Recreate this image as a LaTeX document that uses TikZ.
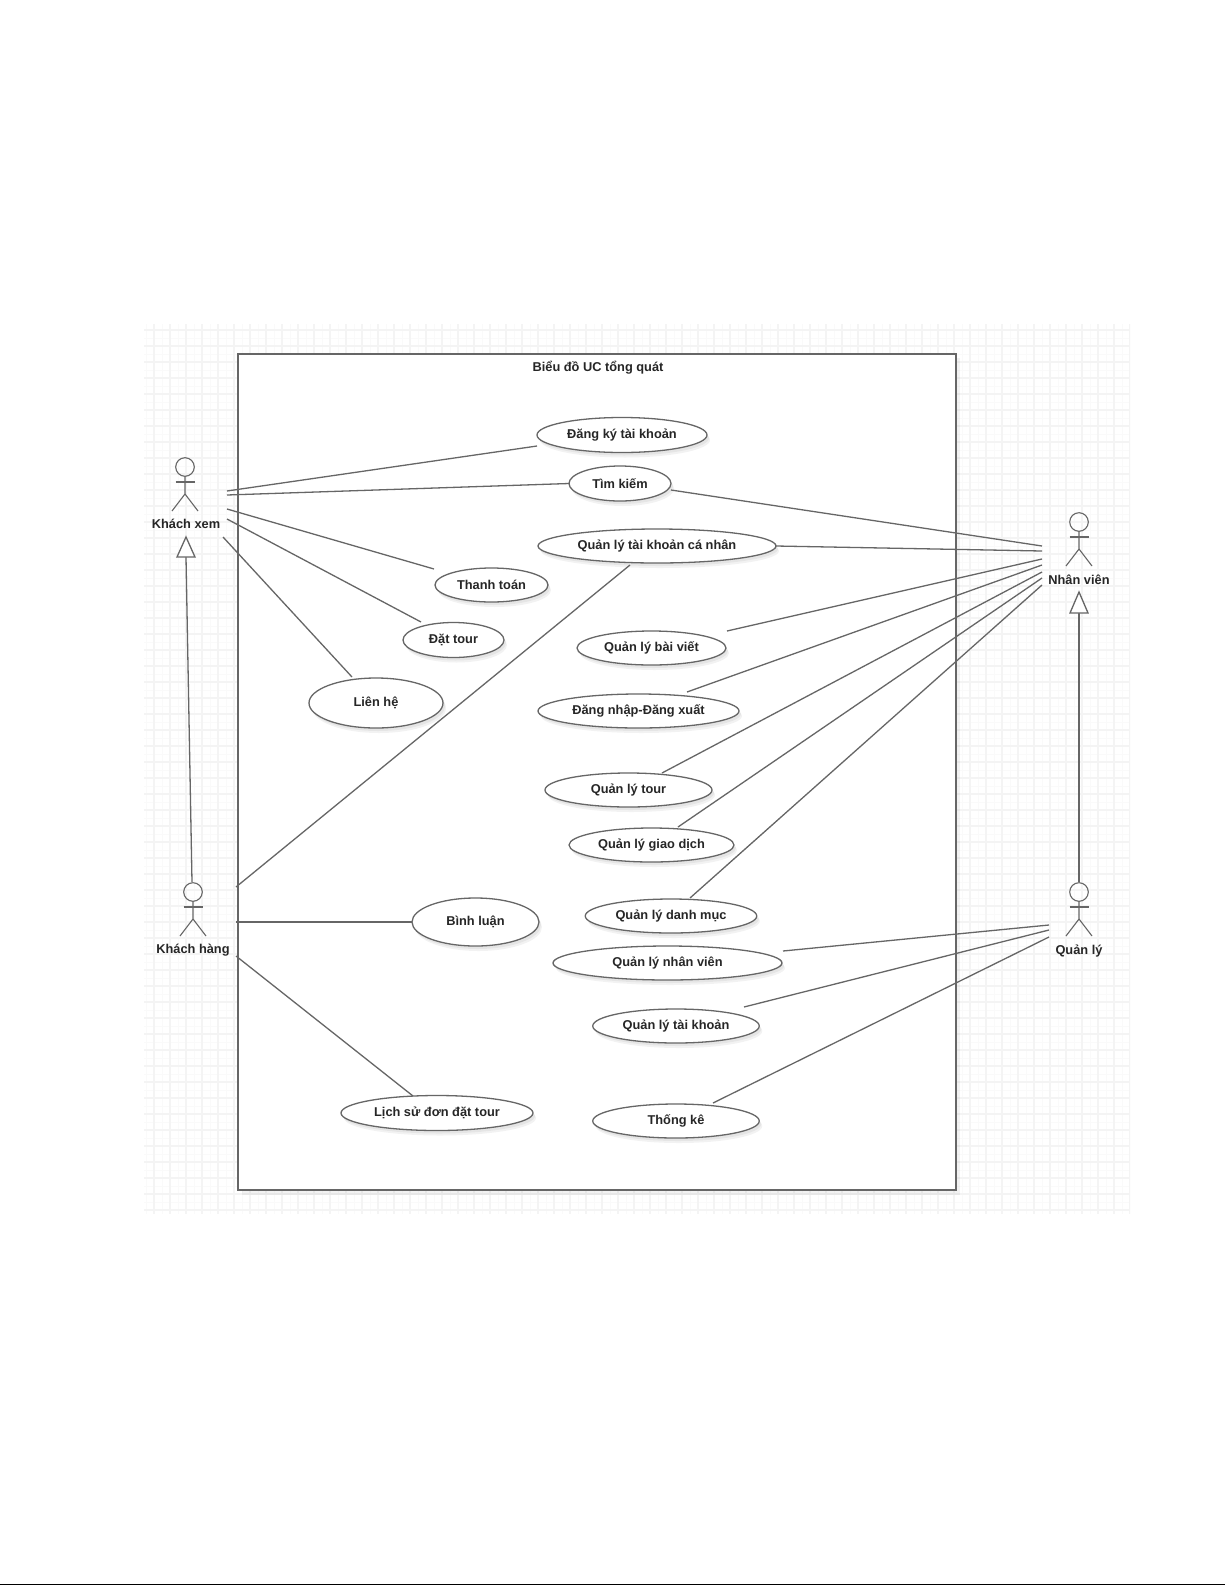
\documentclass[tikz,border=0pt]{standalone}
\usepackage{fontspec}
\setmainfont{Liberation Sans}
\usetikzlibrary{shapes.geometric,calc}
\definecolor{ln}{HTML}{666666}
\definecolor{gridm}{HTML}{F4F4F4}
\definecolor{gridf}{HTML}{FAFAFA}
\tikzset{
  x=1pt,y=-1pt,
  ucase/.style={ellipse,draw=ln,line width=1.3pt,fill=white,inner sep=0pt,outer sep=0pt,font=\bfseries\fontsize{12.8}{14}\selectfont,text=black!85},
  ushadow/.style={ellipse,fill=black,opacity=0.05,inner sep=0pt,outer sep=0pt},
  assoc/.style={ln,line width=1.3pt},
  actorline/.style={ln,line width=1.1pt},
  actorlabel/.style={inner sep=0pt,font=\bfseries\fontsize{12.8}{14}\selectfont,text=black!85},
  gen/.style={ln,line width=1.3pt},
  gentip/.style={ln,line width=1.3pt,fill=white}
}
\newcommand{\ucnode}[5]{%
  \node[ushadow,minimum width=#3pt,minimum height=#4pt] at ($(#2)+(3,5)$) {};
  \node[ushadow,minimum width=#3pt,minimum height=#4pt] at ($(#2)+(2,3)$) {};
  \node[ucase,minimum width=#3pt,minimum height=#4pt] (#1) at (#2) {\raisebox{-0.8pt}{#5}};
}
\newcommand{\actorfig}[2]{%
  \draw[actorline] (#1,#2) circle (9.3);
  \draw[actorline] (#1-9.5,#2+15) -- (#1+9.5,#2+15);
  \draw[actorline] (#1,#2+9.3) -- (#1,#2+27) -- (#1-13,#2+44);
  \draw[actorline] (#1,#2+27) -- (#1+13,#2+44);
}
\begin{document}
\begin{tikzpicture}
\useasboundingbox (0,0) rectangle (1225,1585);
\fill[white] (0,0) rectangle (1225,1585);
% grid
\begin{scope}
\clip (144,324) rectangle (1130,1214);
\foreach \i in {0,...,62} {
  \draw[gridf,line width=1pt] (146+\i*16,324) -- (146+\i*16,1214);
}
\foreach \i in {0,...,56} {
  \draw[gridf,line width=1pt] (144,322+\i*16) -- (1130,322+\i*16);
}
\foreach \i in {0,...,62} {
  \draw[gridm,line width=1.6pt] (154+\i*16,324) -- (154+\i*16,1214);
}
\foreach \i in {0,...,56} {
  \draw[gridm,line width=1.6pt] (144,330+\i*16) -- (1130,330+\i*16);
}
\end{scope}
% frame
\fill[black,opacity=0.05] (242,358) rectangle (960,1195);
\node[draw=ln,line width=1.3pt,fill=white,minimum width=718pt,minimum height=836pt,inner sep=0pt,outer sep=0pt] (frame) at (597,772) {};
\node[inner sep=0pt,font=\bfseries\fontsize{12.8}{14}\selectfont,text=black!85] (title) at (598,368) {Biểu đồ UC tổng quát};
% page rule
\coordinate (ruleL) at (0,1584.2);
\coordinate (ruleR) at (1225,1584.2);
\draw[black,line width=1.4pt] (ruleL) -- (ruleR);
% use cases
\ucnode{dk}{622,435}{170}{35}{Đăng ký tài khoản}
\ucnode{tk}{620,483.5}{102}{35}{Tìm kiếm}
\ucnode{cn}{657,546}{238}{34}{Quản lý tài khoản cá nhân}
\ucnode{tt}{491.5,585}{113}{34}{Thanh toán}
\ucnode{dt}{453.5,640}{101}{35}{Đặt tour}
\ucnode{lh}{376,703}{134}{50}{Liên hệ}
\ucnode{bv}{651.5,648}{149}{34}{Quản lý bài viết}
\ucnode{dn}{638.5,711}{201}{34}{Đăng nhập-Đăng xuất}
\ucnode{qt}{628.5,790}{167}{34}{Quản lý tour}
\ucnode{gd}{651.5,845}{165}{34}{Quản lý giao dịch}
\ucnode{dm}{671,916}{171.5}{34}{Quản lý danh mục}
\ucnode{nv}{667.5,963}{229}{34}{Quản lý nhân viên}
\ucnode{qk}{676,1026}{166.5}{34}{Quản lý tài khoản}
\ucnode{tke}{676,1121}{166.5}{34}{Thống kê}
\ucnode{bl}{475.5,922}{127}{48}{Bình luận}
\ucnode{ls}{437,1113}{192}{35}{Lịch sử đơn đặt tour}
% actors
\actorfig{185}{467}
\actorfig{193}{892}
\actorfig{1079}{522}
\actorfig{1079}{892}
\node[actorlabel] (kx) at (186,524) {Khách xem};
\node[actorlabel] (kh) at (193,950) {Khách hàng};
\node[actorlabel] (nvien) at (1079,580) {Nhân viên};
\node[actorlabel] (ql) at (1079,951) {Quản lý};
% actor-side free ends
\coordinate (kx1) at (227,491);
\coordinate (kx2) at (227,495);
\coordinate (kx3) at (227,509);
\coordinate (kx4) at (227,519);
\coordinate (kx5) at (223,537);
\coordinate (kh1) at (236,887);
\coordinate (kh2) at (236,922);
\coordinate (kh3) at (236,956);
\coordinate (nv1) at (1042,546);
\coordinate (nv2) at (1042,551);
\coordinate (nv3) at (1042,559);
\coordinate (nv4) at (1042,565);
\coordinate (nv5) at (1042,572);
\coordinate (nv6) at (1042,578);
\coordinate (nv7) at (1042,585);
\coordinate (ql1) at (1049,925);
\coordinate (ql2) at (1049,930);
\coordinate (ql3) at (1049,937);
\coordinate (genA) at (192,882);
\coordinate (genB) at (1079,882);
% associations
\draw[assoc] (kx1) -- ($(dk)+(-85,11)$);
\draw[assoc] (kx2) -- (tk.west);
\draw[assoc] (kx3) -- ($(tt)+(-57.5,-16)$);
\draw[assoc] (kx4) -- ($(dt)+(-32.5,-18)$);
\draw[assoc] (kx5) -- ($(lh)+(-24,-26)$);
\draw[assoc] (kh1) -- ($(cn)+(-27,19)$);
\draw[assoc] (kh2) -- (bl.west);
\draw[assoc] (kh3) -- ($(ls)+(-24,-17)$);
\draw[assoc] ($(tk)+(51,6.5)$) -- (nv1);
\draw[assoc] (cn.east) -- (nv2);
\draw[assoc] ($(bv)+(75.5,-17)$) -- (nv3);
\draw[assoc] ($(dn)+(48.5,-19)$) -- (nv4);
\draw[assoc] ($(qt)+(33.5,-17)$) -- (nv5);
\draw[assoc] ($(gd)+(26.5,-18)$) -- (nv6);
\draw[assoc] ($(dm)+(19,-18)$) -- (nv7);
\draw[assoc] ($(nv)+(115.5,-12)$) -- (ql1);
\draw[assoc] ($(qk)+(68,-19)$) -- (ql2);
\draw[assoc] ($(tke)+(37,-18)$) -- (ql3);
% generalisations
\draw[gen] (genA) -- (186,557);
\draw[gentip] (186,537) -- (195,557) -- (177,557) -- cycle;
\draw[gen] (genB) -- (1079,613);
\draw[gentip] (1079,592) -- (1088,613) -- (1070,613) -- cycle;
\end{tikzpicture}
\end{document}
